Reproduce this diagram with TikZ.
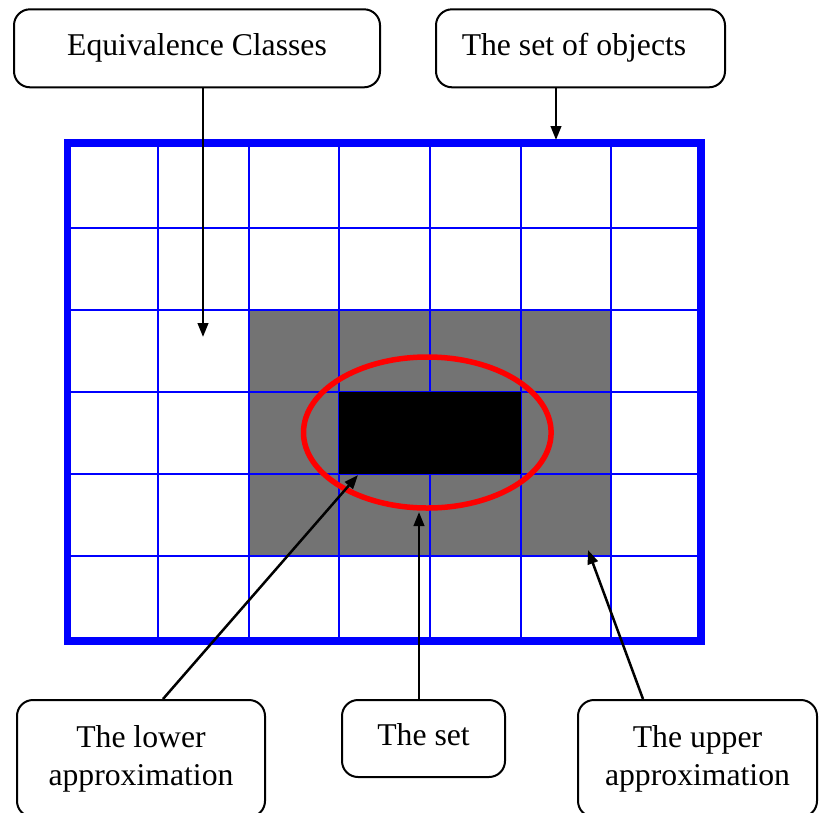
\documentclass[tikz,border=0pt]{standalone}
\usepackage{fontspec}
\setmainfont{Liberation Serif}
\usetikzlibrary{arrows.meta}
\definecolor{cellgray}{RGB}{115,115,115}
\definecolor{frameblue}{RGB}{0,0,255}
\definecolor{setred}{RGB}{255,0,0}
\tikzset{
  labelbox/.style={draw=black, line width=2pt, rounded corners=16pt, inner sep=0pt,
    align=center, font=\fontsize{31.7pt}{38pt}\selectfont},
  oneline/.style={text height=21.7pt, text depth=6.9pt},
  pointer/.style={draw=black, line width=2.5pt, -{Triangle[length=14pt,width=10.5pt]}},
  gridline/.style={draw=frameblue, line width=1.4pt},
  outerframe/.style={draw=frameblue, line width=7.5pt},
  setcurve/.style={draw=setred, line width=5.5pt}
}
\begin{document}
\begin{tikzpicture}[x=1pt,y=-1pt]
\useasboundingbox (0,0) rectangle (819,812);
% shaded regions
\fill[cellgray] (249,310) rectangle (611,556);
% grid
\foreach \gx in {158,249,339,430,521,611}
  \draw[gridline] (\gx,143) -- (\gx,641);
\foreach \gy in {228,310,392,474,556}
  \draw[gridline] (67.5,\gy) -- (701,\gy);
\fill[black] (339,392) rectangle (521,474);
\draw[outerframe] (67.5,143) rectangle (701,641);
% the set
\draw[setcurve] (427.3,432.5) ellipse [x radius=123.8, y radius=75.5];
% label boxes
\node[labelbox, oneline, minimum width=366pt, minimum height=78pt] (eq) at (197,48.3) {Equivalence Classes};
\node[labelbox, oneline, minimum width=289pt, minimum height=78pt] (obj) at (580.5,48.3) {The set of objects\hspace*{13pt}};
\node[labelbox, minimum width=248pt, minimum height=117pt] (lower) at (141,758.5) {The lower\\approximation};
\node[labelbox, oneline, minimum width=163pt, minimum height=77pt] (set) at (423.5,738.5) {The set};
\node[labelbox, minimum width=239pt, minimum height=117pt] (upper) at (697.5,758.5) {The upper\\approximation};
% arrow targets
\coordinate (eqtip) at (203,337);
\coordinate (objtip) at (556,140);
\coordinate (lowtip) at (358,475);
\coordinate (settip) at (419,512);
\coordinate (uptip) at (588,550);
\coordinate (lowstart) at (163,700);
\coordinate (upstart) at (643,700);
% connectors
\draw[pointer] (eq.south -| eqtip) -- (eqtip);
\draw[pointer] (obj.south -| objtip) -- (objtip);
\draw[pointer] (lower.north -| lowstart) -- (lowtip);
\draw[pointer] (set.north -| settip) -- (settip);
\draw[pointer] (upper.north -| upstart) -- (uptip);
\end{tikzpicture}
\end{document}
